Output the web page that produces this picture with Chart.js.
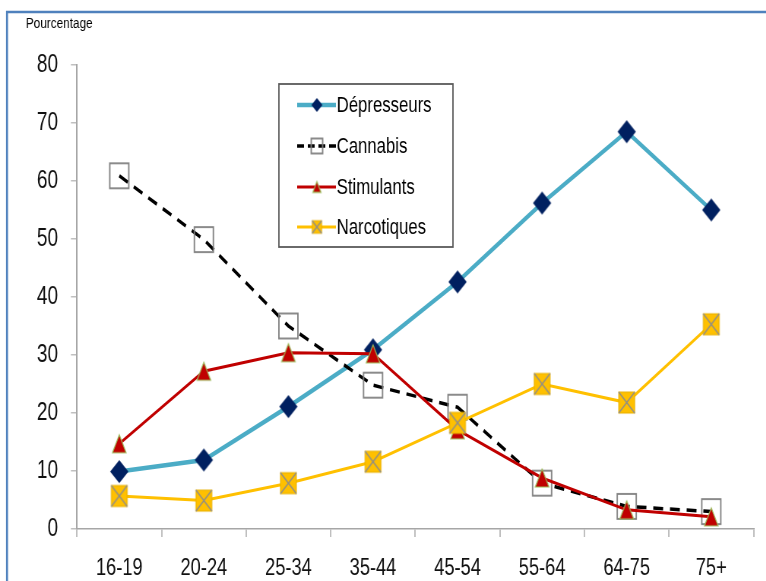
<!DOCTYPE html>
<html>
<head>
<meta charset="utf-8">
<script src="https://cdn.jsdelivr.net/npm/chart.js@4.4.1/dist/chart.umd.min.js"></script>
<style>
  html, body { margin: 0; padding: 0; background: #ffffff; overflow: hidden; }
  /* the drawing is laid out wide and condensed horizontally */
  #wrap { position: relative; width: 1008px; height: 581px; transform: scaleX(0.76); transform-origin: 0 0; }
  canvas { display: block; }
</style>
</head>
<body>
<div id="wrap"><canvas id="chart" width="1008" height="581"></canvas></div>
<script>
// Age groups and percentages by drug class
const categories = ['16-19', '20-24', '25-34', '35-44', '45-54', '55-64', '64-75', '75+'];
const depresseurs = [9.9, 11.9, 21.1, 30.9, 42.6, 56.2, 68.5, 55.0];
const cannabis    = [60.9, 49.9, 35.0, 24.8, 21.0, 7.9, 3.9, 3.0];
const stimulants  = [14.7, 27.2, 30.4, 30.2, 17.1, 8.8, 3.3, 2.1];
const narcotiques = [5.7, 4.9, 7.9, 11.6, 18.3, 25.0, 21.8, 35.3];
const seriesNames = ['Dépresseurs', 'Cannabis', 'Stimulants', 'Narcotiques'];
const yTicks = [0, 10, 20, 30, 40, 50, 60, 70, 80];
const yTitle = 'Pourcentage';

const FONT = "'Liberation Sans', Arial, sans-serif";

// Marker images
function makeMarker(kind, s) {
  const dims = {
    diamond: [24, 23], box: [25, 25], triangle: [18, 18], cross: [21, 21]
  }[kind];
  const w = dims[0] * s, h = dims[1] * s;
  const c = document.createElement('canvas');
  c.width = Math.ceil(w + 4); c.height = Math.ceil(h + 4);
  const g = c.getContext('2d');
  const cx = c.width / 2, cy = c.height / 2;
  g.lineJoin = 'miter';
  if (kind === 'diamond') {
    g.beginPath();
    g.moveTo(cx, cy - h / 2); g.lineTo(cx + w / 2, cy);
    g.lineTo(cx, cy + h / 2); g.lineTo(cx - w / 2, cy); g.closePath();
    g.fillStyle = '#002060'; g.fill();
  } else if (kind === 'box') {
    g.strokeStyle = '#7f7f7f'; g.lineWidth = 1.8;
    g.strokeRect(cx - w / 2, cy - h / 2, w, h);
  } else if (kind === 'triangle') {
    g.beginPath();
    g.moveTo(cx, cy - h / 2); g.lineTo(cx + w / 2, cy + h / 2);
    g.lineTo(cx - w / 2, cy + h / 2); g.closePath();
    g.fillStyle = '#c00000'; g.fill();
    g.strokeStyle = '#9bbb59'; g.lineWidth = 1.2; g.stroke();
  } else {
    g.fillStyle = '#ffc000';
    g.fillRect(cx - w / 2, cy - h / 2, w, h);
    g.strokeStyle = '#e8b000'; g.lineWidth = 1;
    g.strokeRect(cx - w / 2, cy - h / 2, w, h);
    g.beginPath();
    g.moveTo(cx - w / 2, cy - h / 2); g.lineTo(cx + w / 2, cy + h / 2);
    g.moveTo(cx + w / 2, cy - h / 2); g.lineTo(cx - w / 2, cy + h / 2);
    g.strokeStyle = '#8c8c8c'; g.lineWidth = 1.5; g.stroke();
  }
  return c;
}

const kinds = ['diamond', 'box', 'triangle', 'cross'];
const pointImgs = kinds.map(k => makeMarker(k, 1));
const legendImgs = kinds.map(k => makeMarker(k, 0.6));

// Frame lines and the axis caption in the top-left corner
const framePlugin = {
  id: 'frame',
  beforeDraw(chart) {
    const ctx = chart.ctx;
    ctx.save();
    ctx.fillStyle = '#ffffff';
    ctx.fillRect(0, 0, chart.width, chart.height);
    ctx.strokeStyle = '#4f81bd';
    ctx.lineWidth = 2.6;
    ctx.beginPath();
    ctx.moveTo(9.2, chart.height); ctx.lineTo(9.2, 12); ctx.lineTo(chart.width, 12);
    ctx.stroke();
    ctx.fillStyle = '#000000';
    ctx.font = '15.5px ' + FONT;
    ctx.textBaseline = 'alphabetic';
    ctx.fillText(yTitle, 34, 28);
    ctx.restore();
  }
};

// Boxed legend inside the plot area
const boxLegend = {
  id: 'boxLegend',
  afterDatasetsDraw(chart) {
    const ctx = chart.ctx;
    const x0 = 367, y0 = 84, w = 229, h = 163;
    ctx.save();
    ctx.fillStyle = '#ffffff';
    ctx.fillRect(x0, y0, w, h);
    ctx.strokeStyle = '#5a5a5a';
    ctx.lineWidth = 1.8;
    ctx.strokeRect(x0, y0, w, h);
    const rows = [105, 146, 187, 227];
    chart.data.datasets.forEach((ds, i) => {
      const y = rows[i];
      ctx.save();
      ctx.strokeStyle = ds.borderColor;
      ctx.lineWidth = ds.borderWidth;
      ctx.setLineDash(ds.borderDash ? [9, 5] : []);
      ctx.beginPath();
      ctx.moveTo(391, y); ctx.lineTo(442, y);
      ctx.stroke();
      ctx.restore();
      const img = legendImgs[i];
      ctx.drawImage(img, 417 - img.width / 2, y - img.height / 2);
      ctx.fillStyle = '#000000';
      ctx.font = '22px ' + FONT;
      ctx.textBaseline = 'middle';
      ctx.fillText(ds.label, 443, y + 1);
    });
    ctx.restore();
  }
};

function build() {
  new Chart(document.getElementById('chart'), {
    type: 'line',
    data: {
      labels: categories,
      datasets: [
        { label: seriesNames[0], data: depresseurs, borderColor: '#4bacc6', borderWidth: 4.5,
          pointStyle: pointImgs[0], order: 4 },
        { label: seriesNames[1], data: cannabis, borderColor: '#000000', borderWidth: 3.5,
          borderDash: [13, 9], pointStyle: pointImgs[1], order: 3 },
        { label: seriesNames[2], data: stimulants, borderColor: '#c00000', borderWidth: 3,
          pointStyle: pointImgs[2], order: 2 },
        { label: seriesNames[3], data: narcotiques, borderColor: '#ffc000', borderWidth: 3,
          pointStyle: pointImgs[3], order: 1 }
      ]
    },
    options: {
      responsive: false,
      devicePixelRatio: 1,
      animation: false,
      events: [],
      layout: { padding: { top: 65, right: 14.6, left: 0, bottom: 0 } },
      elements: {
        line: { tension: 0, fill: false },
        point: { radius: 12, hoverRadius: 12 }
      },
      plugins: { legend: { display: false }, tooltip: { enabled: false }, title: { display: false } },
      scales: {
        x: {
          type: 'category',
          offset: true,
          afterFit(scale) { scale.height = 52; },
          grid: { drawOnChartArea: false, drawTicks: true, tickLength: 8, offset: true,
                  color: '#bfbfbf', lineWidth: 2 },
          border: { color: '#a6a6a6', width: 1.5 },
          ticks: { color: '#111111', padding: 17, maxRotation: 0, autoSkip: false,
                   font: { family: FONT, size: 24 } }
        },
        y: {
          min: yTicks[0],
          max: yTicks[yTicks.length - 1],
          afterFit(scale) { scale.width = 101.3; },
          afterBuildTicks(scale) { scale.ticks = yTicks.map(v => ({ value: v })); },
          grid: { drawOnChartArea: false, drawTicks: true, tickLength: 8,
                  color: '#bfbfbf', lineWidth: 1.5 },
          border: { color: '#a6a6a6', width: 2 },
          ticks: { color: '#111111', padding: 17,
                   font: { family: FONT, size: 25 } }
        }
      }
    },
    plugins: [framePlugin, boxLegend]
  });
}

if (document.fonts && document.fonts.load) {
  document.fonts.load("22px 'Liberation Sans'").then(build, build);
} else {
  build();
}
</script>
</body>
</html>
